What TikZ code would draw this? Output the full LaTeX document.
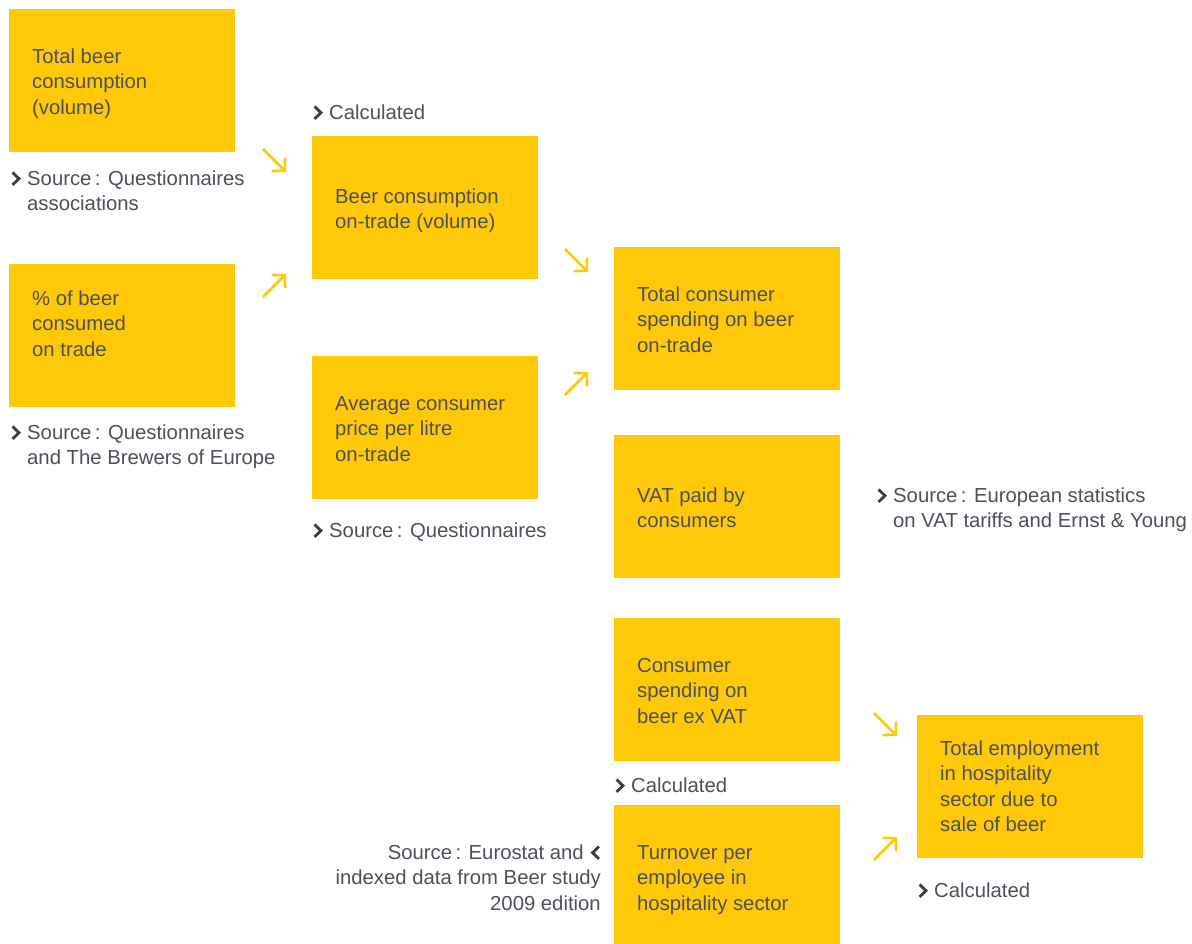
\documentclass[tikz,border=0pt]{standalone}
\usepackage{fontspec}
\setmainfont{Liberation Sans}
\usetikzlibrary{arrows.meta}
\definecolor{ey}{HTML}{FFC907}
\definecolor{txtgrey}{HTML}{4D505B}
\definecolor{chevgrey}{HTML}{3A3D48}
\tikzset{
  box/.style={fill=ey, draw=none, minimum width=226pt, minimum height=143pt, anchor=north west, inner sep=0pt},
  txt/.style={anchor=base west, align=left, inner sep=0pt, text=txtgrey, font=\fontsize{20.3}{25.5}\selectfont},
  txtr/.style={anchor=base east, align=right, inner sep=0pt, text=txtgrey, font=\fontsize{20.3}{25.5}\selectfont},
  arr/.style={draw=ey, line width=2.6pt, -{Straight Barb[length=9pt,width=19pt]}},
  chev/.style={draw=chevgrey, line width=2.8pt, miter limit=10}
}
\begin{document}
\begin{tikzpicture}[x=1pt,y=-1pt]
\useasboundingbox (0,0) rectangle (1192,943);
% boxes
\node[box] (b1) at (9,9) {};
\node[box] (b2) at (312,136) {};
\node[box] (b3) at (9,264) {};
\node[box] (b4) at (312,356) {};
\node[box] (b5) at (614,247) {};
\node[box] (b6) at (614,435) {};
\node[box] (b7) at (614,618) {};
\node[box, minimum height=140pt] (b8) at (614,805) {};
\node[box] (b9) at (917,715) {};
% box texts (placed at the baseline of their last line)
\node[txt] (t1) at (32,{63+51}) {Total beer\\consumption\\(volume)};
\node[txt] (t2) at (335,{203+25.5}) {Beer consumption\\on-trade (volume)};
\node[txt] (t3) at (32,{305+51}) {\% of beer\\consumed\\on trade};
\node[txt] (t4) at (335,{410+51}) {Average consumer\\price per litre\\on-trade};
\node[txt] (t5) at (637,{301+51}) {Total consumer\\spending on beer\\on-trade};
\node[txt] (t6) at (637,{502+25.5}) {VAT paid by\\consumers};
\node[txt] (t7) at (637,{672+51}) {Consumer\\spending on\\beer ex VAT};
\node[txt] (t8) at (637,{859+51}) {Turnover per\\employee in\\hospitality sector};
\node[txt] (t9) at (940,{755+76.5}) {Total employment\\in hospitality\\sector due to\\sale of beer};
% label first-line baselines
\coordinate (p1) at (27,185);
\coordinate (p2) at (27,439);
\coordinate (p3) at (329,119);
\coordinate (p4) at (329,537);
\coordinate (p5) at (893,502);
\coordinate (p6) at (631,792);
\coordinate (p7) at (934,897);
\coordinate (p8) at (601,859);
% labels
\node[txt] (l1) at ([yshift=-25.5pt]p1) {Source\,: Questionnaires\\associations};
\node[txt] (l2) at ([yshift=-25.5pt]p2) {Source\,: Questionnaires\\and The Brewers of Europe};
\node[txt] (l3) at (p3) {Calculated};
\node[txt] (l4) at (p4) {Source\,: Questionnaires};
\node[txt] (l5) at ([yshift=-25.5pt]p5) {Source\,: European statistics\\on VAT tariffs and Ernst \& Young};
\node[txt] (l6) at (p6) {Calculated};
\node[txt] (l7) at (p7) {Calculated};
\node[txtr] (l8) at ([yshift=-51pt]p8) {Source\,: Eurostat and\kern17pt\\indexed data from Beer study\\2009 edition};
% chevrons
\foreach \n in {p1,p2,p3,p4,p5,p6,p7}{
  \draw[chev] ([shift={(-14.5pt,12.5pt)}]\n) -- ++(6.5pt,-6.2pt) -- ++(-6.5pt,-6.2pt);
}
\draw[chev] ([shift={(-2pt,12.5pt)}]p8) -- ++(-6.5pt,-6.2pt) -- ++(6.5pt,-6.2pt);
% arrows
\coordinate (a1s) at (263,149); \coordinate (a1e) at (286,172);
\coordinate (a2s) at (263,297); \coordinate (a2e) at (286,274);
\coordinate (a3s) at (565,249); \coordinate (a3e) at (588,272);
\coordinate (a4s) at (565,395); \coordinate (a4e) at (588,372);
\coordinate (a5s) at (874,713); \coordinate (a5e) at (897,736);
\coordinate (a6s) at (874,860); \coordinate (a6e) at (897,837);
\draw[arr] (a1s) -- (a1e);
\draw[arr] (a2s) -- (a2e);
\draw[arr] (a3s) -- (a3e);
\draw[arr] (a4s) -- (a4e);
\draw[arr] (a5s) -- (a5e);
\draw[arr] (a6s) -- (a6e);
\end{tikzpicture}
\end{document}
